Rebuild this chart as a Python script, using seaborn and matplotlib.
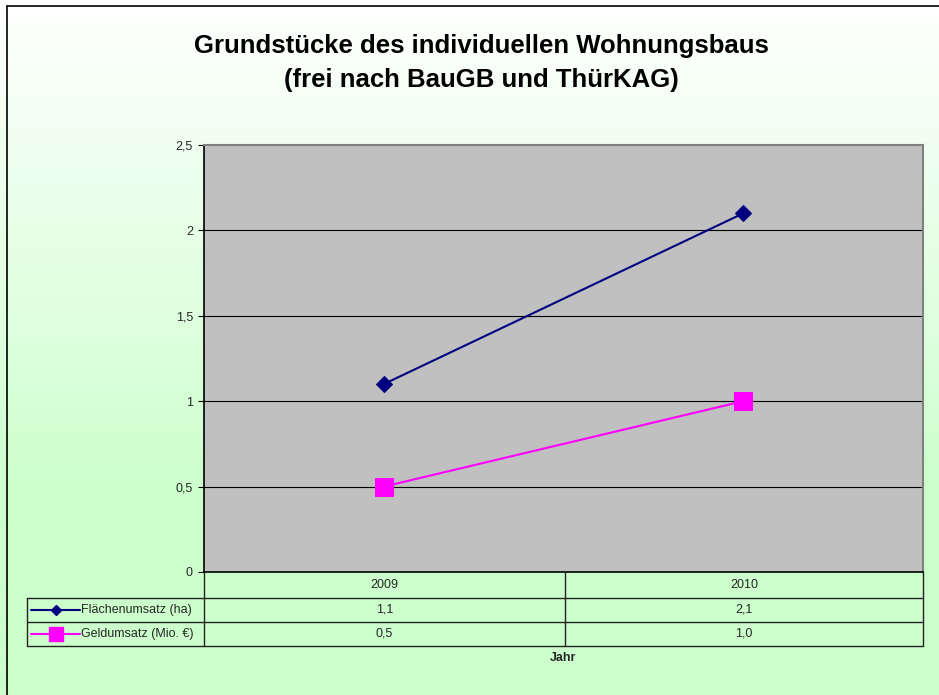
import numpy as np
import pandas as pd
import matplotlib
matplotlib.use("Agg")
import matplotlib.pyplot as plt
from matplotlib.lines import Line2D
import seaborn as sns

# ---- data ----
years = ["2009", "2010"]
flaeche = [1.1, 2.1]
geld = [0.5, 1.0]
series_names = ["Flächenumsatz (ha)", "Geldumsatz (Mio. €)"]
flaeche_labels = ["1,1", "2,1"]
geld_labels = ["0,5", "1,0"]
yticks = [0, 0.5, 1, 1.5, 2, 2.5]
ytick_labels = ["0", "0,5", "1", "1,5", "2", "2,5"]

sns.set_theme(style="white")
plt.rcParams['font.family'] = ['Liberation Sans', 'DejaVu Sans']

W, H = 939, 695
fig = plt.figure(figsize=(W / 100, H / 100), dpi=100)

def fx(px):
    return px / W

def fy(py):
    return 1 - py / H

# background gradient
bg = fig.add_axes([0, 0, 1, 1], zorder=-10)
n = 400
t = np.clip(np.linspace(0, 1, n) / 0.72, 0, 1)[:, None]
top = np.array([1.0, 1.0, 1.0])
bot = np.array([0xCC, 0xFF, 0xCC]) / 255
grad = top[None, None, :] * (1 - t[:, :, None]) + bot[None, None, :] * t[:, :, None]
grad = np.repeat(grad, 2, axis=1)
bg.imshow(grad, aspect="auto", extent=[0, 1, 0, 1], origin="upper")
bg.set_xlim(0, 1)
bg.set_ylim(0, 1)
bg.axis("off")

# figure frame (top and left)
fig.add_artist(Line2D([fx(7), 1], [fy(6), fy(6)], color="black", lw=1.2, transform=fig.transFigure))
fig.add_artist(Line2D([fx(7), fx(7)], [fy(6), 0], color="black", lw=1.2, transform=fig.transFigure))

# title
fig.text(fx(481), fy(46), "Grundstücke des individuellen Wohnungsbaus", ha="center", va="center",
         fontsize=18.5, fontweight="bold", color="black")
fig.text(fx(481), fy(80), "(frei nach BauGB und ThürKAG)", ha="center", va="center",
         fontsize=18.5, fontweight="bold", color="black")

# main axes
x0, x1, y0, y1 = 204, 923, 145, 572
ax = fig.add_axes([fx(x0), fy(y1), fx(x1) - fx(x0), fy(y0) - fy(y1)])
ax.set_facecolor("#C0C0C0")

df = pd.DataFrame({
    "Jahr": years * 2,
    "Wert": flaeche + geld,
    "Serie": [series_names[0]] * 2 + [series_names[1]] * 2,
})
sns.lineplot(data=df, x="Jahr", y="Wert", hue="Serie", style="Serie",
             palette={series_names[0]: "#000080", series_names[1]: "#FF00FF"},
             markers={series_names[0]: "D", series_names[1]: "s"},
             dashes=False, ax=ax, legend=False, linewidth=1.5, zorder=5)
lines = ax.get_lines()
lines[0].set_markersize(8)
lines[0].set_markeredgecolor("#000080")
lines[1].set_markersize(13)
lines[1].set_markeredgecolor("#FF00FF")

ax.set_xlim(-0.5, 1.5)
ax.set_ylim(0, 2.5)
ax.set_yticks(yticks)
ax.set_yticklabels(ytick_labels, fontsize=9)
ax.set_xticks([])
ax.set_xlabel("")
ax.set_ylabel("")
for yv in yticks[1:-1]:
    ax.axhline(yv, color="black", lw=0.8, zorder=1)
ax.tick_params(axis="y", which="both", left=True, length=4, width=0.8, color="black", pad=4)
for side in ["left", "bottom"]:
    ax.spines[side].set_color("black")
    ax.spines[side].set_linewidth(1.2)
for side in ["top", "right"]:
    ax.spines[side].set_color("#808080")
    ax.spines[side].set_linewidth(1.5)

# data table
mid = 565
rows = [572, 598, 622, 646]
left = 27
lc = "#222222"
def hline(xa, xb, y, lw=1.0):
    fig.add_artist(Line2D([fx(xa), fx(xb)], [fy(y), fy(y)], color=lc, lw=lw, transform=fig.transFigure))
def vline(x, ya, yb, lw=1.0):
    fig.add_artist(Line2D([fx(x), fx(x)], [fy(ya), fy(yb)], color=lc, lw=lw, transform=fig.transFigure))

hline(left, x1, rows[1])
hline(left, x1, rows[2])
hline(left, x1, rows[3])
vline(left, rows[1], rows[3])
vline(x0, rows[0], rows[3])
vline(mid, rows[0], rows[3])
vline(x1, rows[0], rows[3])

cx = [(x0 + mid) / 2, (mid + x1) / 2]
for i, yr in enumerate(years):
    fig.text(fx(cx[i]), fy((rows[0] + rows[1]) / 2), yr, ha="center", va="center", fontsize=9)
    fig.text(fx(cx[i]), fy((rows[1] + rows[2]) / 2), flaeche_labels[i], ha="center", va="center", fontsize=9)
    fig.text(fx(cx[i]), fy((rows[2] + rows[3]) / 2), geld_labels[i], ha="center", va="center", fontsize=9)

# legend keys in table
for r, (name, col, mk, ms) in enumerate([(series_names[0], "#000080", "D", 5),
                                        (series_names[1], "#FF00FF", "s", 10)]):
    yc = fy((rows[1 + r] + rows[2 + r]) / 2)
    fig.add_artist(Line2D([fx(31), fx(80)], [yc, yc], color=col, lw=1.5, transform=fig.transFigure))
    fig.add_artist(Line2D([fx(56)], [yc], color=col, marker=mk, markersize=ms, markeredgecolor=col,
                          transform=fig.transFigure))
    fig.text(fx(81), yc, name, ha="left", va="center", fontsize=9)

fig.text(fx(563), fy(658), "Jahr", ha="center", va="center", fontsize=9, fontweight="bold")

fig.savefig("out.png", dpi=100)
